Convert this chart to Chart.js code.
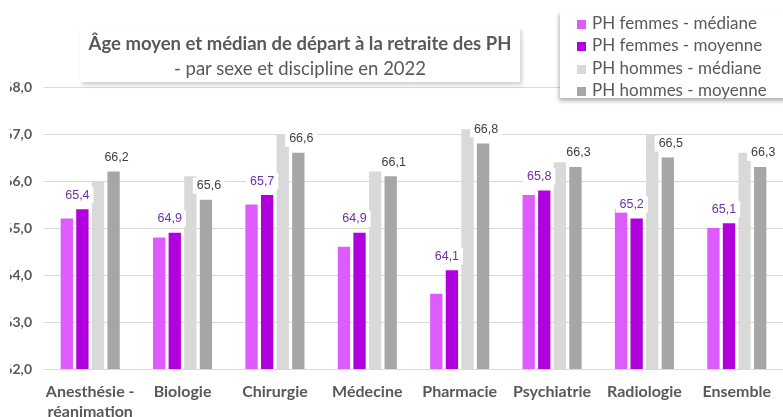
<!DOCTYPE html>
<html lang="fr">
<head>
<meta charset="utf-8">
<title>Âge de départ à la retraite des PH</title>
<script src="https://cdn.jsdelivr.net/npm/chart.js@4.4.1/dist/chart.umd.min.js"></script>
<style>
    body { margin: 0; background: #fff; }
    #wrap { position: relative; width: 783px; height: 417px; overflow: hidden; }
    #chart { position: absolute; left: 0; top: 0; }
    #titleBox {
        position: absolute; left: 80px; top: 27px; width: 440px; height: 55px;
        background: #fff; box-shadow: 2px 3px 4px rgba(0, 0, 0, 0.18);
        font-family: Lato, 'Liberation Sans', sans-serif; color: #595959; text-align: center;
    }
    #titleBox .t1 { font-weight: bold; font-size: 18.5px; margin-top: 4px; line-height: 24px; }
    #titleBox .t2 { font-size: 18.5px; line-height: 26px; }
    #legendBox {
        position: absolute; left: 560px; top: 11px; width: 230px; height: 87px;
        background: #fff; box-shadow: -1px 3px 4px rgba(0, 0, 0, 0.3);
        font-family: Lato, 'Liberation Sans', sans-serif; font-size: 17px; color: #595959;
        padding-top: 1px; box-sizing: border-box;
    }
    #legendBox .item { height: 22.4px; line-height: 22px; padding-left: 17px; white-space: nowrap; }
    #legendBox .sw { display: inline-block; width: 9px; height: 9px; margin-right: 6px; }
    #edge { position: absolute; left: 0; top: 0; width: 10px; height: 417px; background: #fff; }
</style>
</head>
<body>
<div id="wrap">
    <canvas id="chart" width="783" height="417"></canvas>
    <div id="edge"></div>
    <div id="titleBox">
        <div class="t1">Âge moyen et médian de départ à la retraite des PH</div>
        <div class="t2">- par sexe et discipline en 2022</div>
    </div>
    <div id="legendBox"></div>
</div>
<script>
const categories = [['Anesthésie -', 'réanimation'], 'Biologie', 'Chirurgie', 'Médecine', 'Pharmacie', 'Psychiatrie', 'Radiologie', 'Ensemble'];
const seriesNames = ['PH femmes - médiane', 'PH femmes - moyenne', 'PH hommes - médiane', 'PH hommes - moyenne'];
const femmesMediane = [65.2, 64.8, 65.5, 64.6, 63.6, 65.7, 65.4, 65.0];
const femmesMoyenne = [65.4, 64.9, 65.7, 64.9, 64.1, 65.8, 65.2, 65.1];
const hommesMediane = [66.0, 66.1, 67.0, 66.2, 67.1, 66.4, 67.0, 66.6];
const hommesMoyenne = [66.2, 65.6, 66.6, 66.1, 66.8, 66.3, 66.5, 66.3];
const yMin = 62;
const yMax = 68;
const yStep = 1;

const colors = ['#DE5CFF', '#B000DD', '#D9D9D9', '#A6A6A6'];
const labelColors = { 1: '#7030A0', 3: '#404040' };
const labelShift = { 1: -5, 3: 3 };

const fmt = v => v.toFixed(1).replace('.', ',');

// legend in html
const legendBox = document.getElementById('legendBox');
seriesNames.forEach((name, i) => {
    const item = document.createElement('div');
    item.className = 'item';
    item.innerHTML = `<span class="sw" style="background:${colors[i]}"></span>${name}`;
    legendBox.appendChild(item);
});

// value labels with white box, only on the "moyenne" series
const valueLabels = {
    id: 'valueLabels',
    afterDatasetsDraw(chart) {
        const ctx = chart.ctx;
        ctx.save();
        ctx.font = '12.5px "Liberation Sans", Arial, sans-serif';
        ctx.textAlign = 'center';
        ctx.textBaseline = 'middle';
        [1, 3].forEach(i => {
            const meta = chart.getDatasetMeta(i);
            meta.data.forEach((bar, j) => {
                const text = fmt(chart.data.datasets[i].data[j]);
                const x = bar.x + labelShift[i];
                const y = bar.y - 14;
                const w = ctx.measureText(text).width + 8;
                ctx.fillStyle = '#fff';
                ctx.fillRect(x - w / 2, y - 8, w, 16);
                ctx.fillStyle = labelColors[i];
                ctx.fillText(text, x, y);
            });
        });
        ctx.restore();
    }
};

new Chart(document.getElementById('chart'), {
    type: 'bar',
    data: {
        labels: categories,
        datasets: [femmesMediane, femmesMoyenne, hommesMediane, hommesMoyenne].map((d, i) => ({
            label: seriesNames[i],
            data: d,
            backgroundColor: colors[i],
            categoryPercentage: 0.675,
            barPercentage: 0.79
        }))
    },
    options: {
        responsive: false,
        animation: false,
        layout: { padding: { top: 87, left: 0, right: 0, bottom: 0 } },
        plugins: {
            legend: { display: false },
            title: { display: false },
            tooltip: { enabled: false }
        },
        scales: {
            x: {
                grid: { display: false },
                border: { color: '#D9D9D9' },
                ticks: {
                    color: '#595959',
                    font: { family: 'Lato, "Liberation Sans", sans-serif', size: 16, weight: 'bold', lineHeight: 1.25 },
                    padding: 5,
                    maxRotation: 0,
                    autoSkip: false
                },
                afterFit(scale) { scale.height = 48; }
            },
            y: {
                min: yMin,
                max: yMax,
                grid: { color: '#D9D9D9', drawTicks: false },
                border: { display: false },
                ticks: {
                    stepSize: yStep,
                    color: '#595959',
                    font: { family: 'Lato, "Liberation Sans", sans-serif', size: 14, weight: 'bold' },
                    padding: 12,
                    callback: v => fmt(v)
                },
                afterFit(scale) { scale.width = 44; }
            }
        }
    },
    plugins: [valueLabels]
});
</script>
</body>
</html>
